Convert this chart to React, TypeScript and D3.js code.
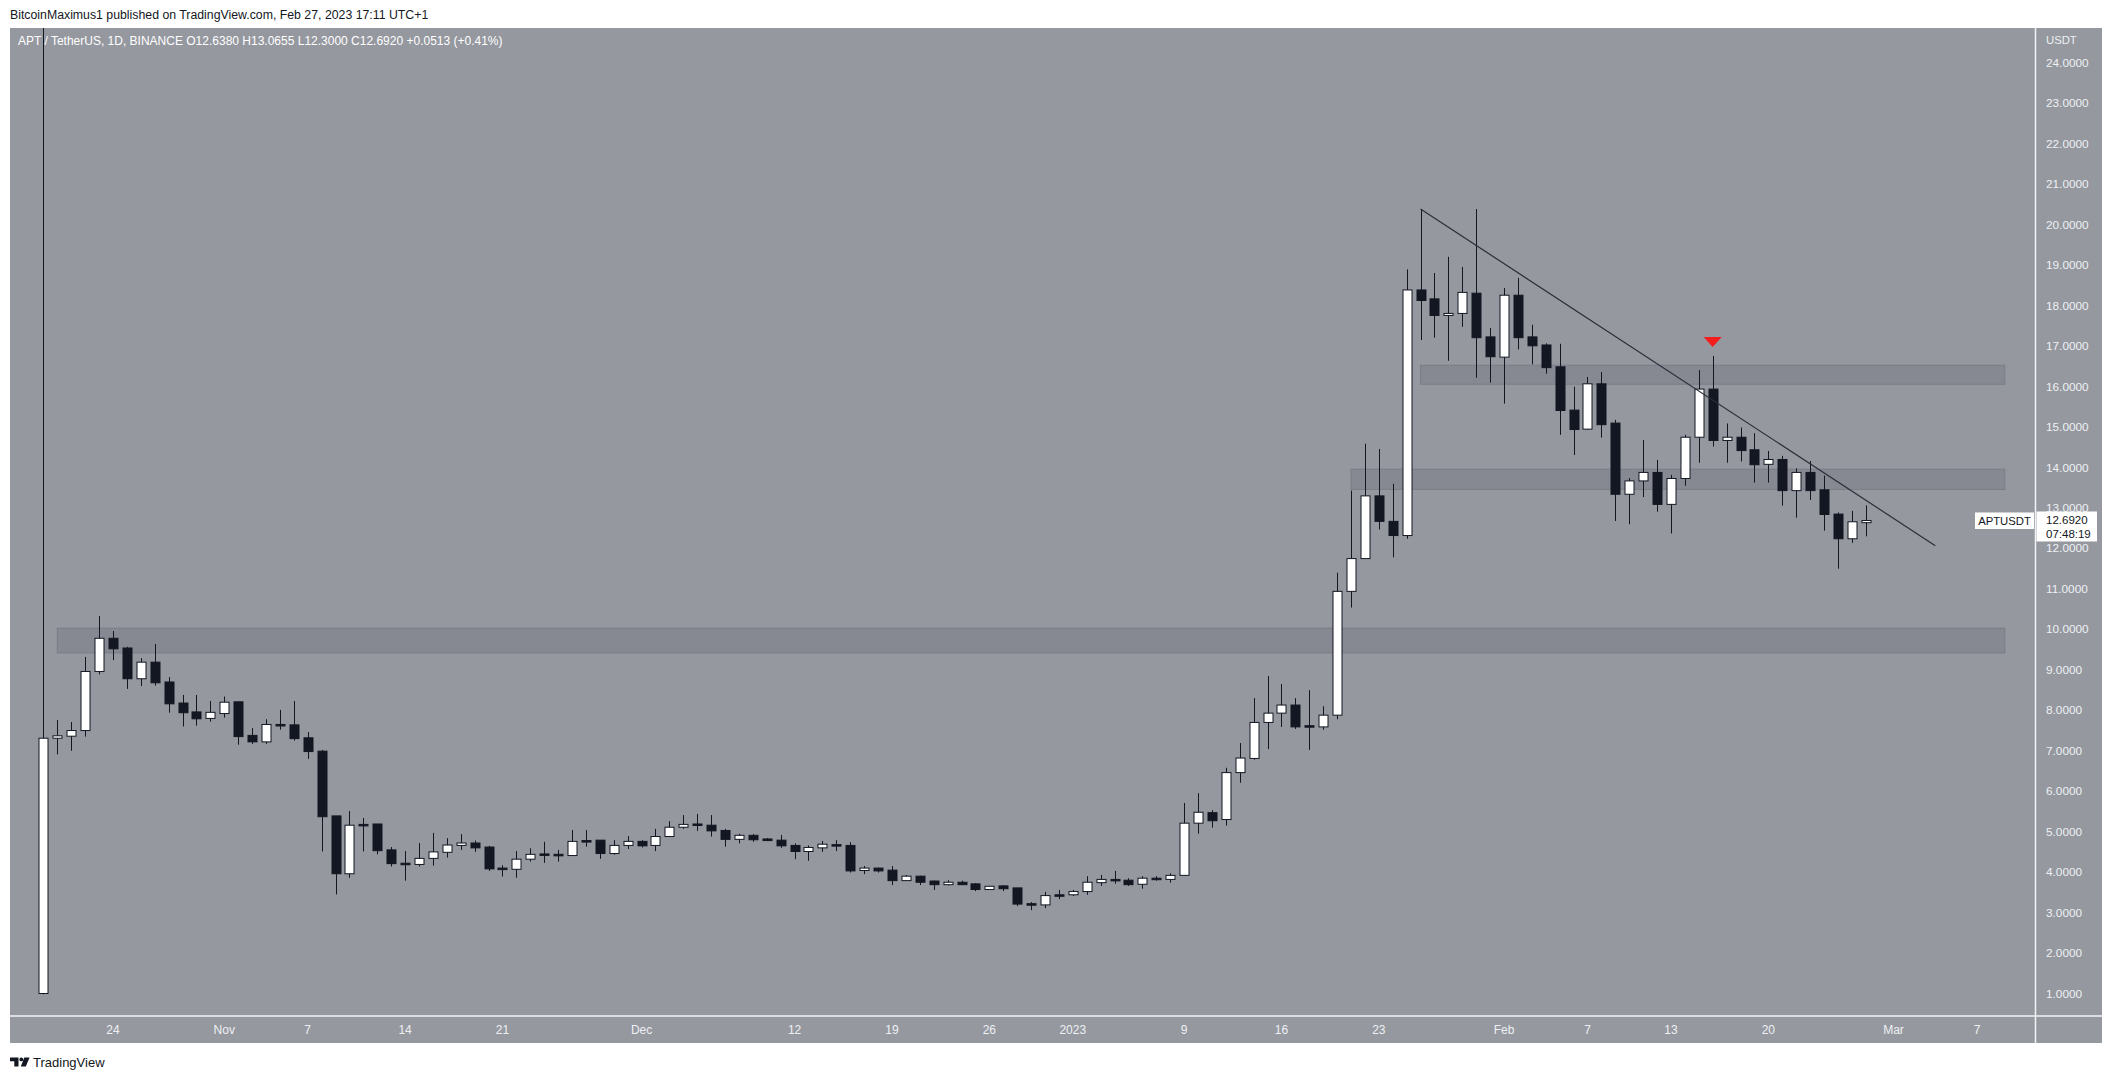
import React from "react";
import * as d3 from "d3";

// ---- data (daily candles, APT/USDT, Binance) ----
const startDate = Date.UTC(2022, 9, 19); // first candle, Oct 19 2022, one candle per day
const opens = [
  1.0, 7.31, 7.36, 7.5, 8.96, 9.78, 9.54, 8.78, 9.19, 8.7, 8.18, 7.96, 7.8,
  7.92, 8.21, 7.38, 7.22, 7.65, 7.64, 7.32, 6.99, 5.39, 3.96, 5.18, 5.19, 4.55, 4.22,
  4.19, 4.34, 4.49, 4.66, 4.72, 4.62, 4.1, 4.07, 4.32, 4.45, 4.44, 4.41, 4.78, 4.79,
  4.46, 4.66, 4.76, 4.66, 4.88, 5.11, 5.19, 5.16, 5.03, 4.81, 4.91, 4.82, 4.79, 4.66,
  4.51, 4.6, 4.68, 4.66, 4.04, 4.1, 4.05, 3.79, 3.9, 3.78, 3.69, 3.75, 3.71, 3.57,
  3.66, 3.61, 3.22, 3.19, 3.44, 3.44, 3.52, 3.74, 3.82, 3.8, 3.7, 3.85, 3.82, 3.92,
  5.21, 5.47, 5.3, 6.46, 6.81, 7.7, 7.93, 8.13, 7.62, 7.59, 7.88, 10.94, 11.75, 13.3,
  12.67, 12.32, 18.39, 18.17, 17.76, 17.81, 18.31, 17.23, 16.73, 18.26, 17.23, 17.03,
  16.49, 15.42, 14.95, 16.07, 15.1, 13.34, 13.67, 13.88, 13.09, 13.73, 14.75, 15.94,
  14.67, 14.75, 14.44, 14.08, 14.2, 13.43, 13.88, 13.45, 12.85, 12.24, 12.638,
];
const highs = [
  100, 7.76, 7.71, 9.32, 10.33, 9.96, 9.57, 9.29, 9.64, 8.82, 8.38, 8.38, 8.23,
  8.34, 8.21, 7.56, 7.78, 8.01, 8.23, 7.46, 7.02, 5.39, 5.51, 5.34, 5.19, 4.62, 4.52,
  4.72, 4.97, 4.84, 4.94, 4.78, 4.65, 4.17, 4.52, 4.59, 4.75, 4.55, 5.04, 5.04, 4.79,
  4.79, 4.89, 4.79, 5.07, 5.26, 5.41, 5.44, 5.41, 5.07, 4.95, 4.94, 4.84, 4.92, 4.71,
  4.66, 4.77, 4.79, 4.74, 4.15, 4.11, 4.15, 3.93, 3.91, 3.79, 3.8, 3.79, 3.73, 3.66,
  3.68, 3.61, 3.26, 3.51, 3.56, 3.56, 3.9, 3.93, 4.03, 3.85, 3.9, 3.9, 3.97, 5.71,
  5.95, 5.53, 6.58, 7.19, 8.3, 8.85, 8.65, 8.3, 8.5, 8.1, 11.4, 13.43, 14.59, 14.46,
  13.6, 18.9, 20.39, 18.81, 19.21, 18.96, 20.39, 17.45, 18.44, 18.69, 17.53, 17.07,
  17.06, 16.0, 16.24, 16.36, 15.18, 13.74, 14.68, 14.19, 13.82, 14.81, 16.41, 16.76,
  15.09, 14.99, 14.85, 14.41, 14.29, 13.98, 14.16, 13.8, 12.89, 12.93, 13.0655,
];
const lows = [
  0.98, 6.91, 7.0, 7.35, 8.89, 9.24, 8.53, 8.6, 8.61, 7.94, 7.6, 7.62, 7.72,
  7.82, 7.15, 7.17, 7.17, 7.52, 7.25, 6.8, 4.51, 3.45, 3.86, 4.51, 4.44, 4.14, 3.79,
  4.14, 4.16, 4.36, 4.55, 4.5, 4.03, 3.89, 3.86, 4.26, 4.23, 4.26, 4.4, 4.63, 4.33,
  4.43, 4.57, 4.61, 4.52, 4.88, 5.07, 5.02, 4.88, 4.63, 4.71, 4.75, 4.77, 4.6, 4.32,
  4.28, 4.5, 4.52, 3.99, 3.95, 3.99, 3.68, 3.78, 3.68, 3.56, 3.67, 3.68, 3.53, 3.56,
  3.53, 3.16, 3.06, 3.11, 3.33, 3.41, 3.44, 3.66, 3.71, 3.66, 3.59, 3.79, 3.74, 3.91,
  4.95, 5.1, 5.15, 6.21, 6.78, 7.04, 7.59, 7.54, 7.02, 7.52, 7.78, 10.54, 11.74, 12.47,
  11.78, 12.24, 17.15, 17.21, 16.64, 17.48, 16.22, 16.1, 15.58, 16.92, 16.55, 16.32,
  14.81, 14.31, 14.94, 14.74, 12.68, 12.6, 13.27, 12.91, 12.37, 13.55, 14.12, 14.52,
  14.12, 14.15, 13.63, 13.63, 13.06, 12.76, 13.2, 12.44, 11.5, 12.14, 12.3,
];
const closes = [
  7.31, 7.37, 7.5, 8.96, 9.78, 9.52, 8.78, 9.19, 8.68, 8.16, 7.94, 7.79, 7.95,
  8.2, 7.35, 7.22, 7.65, 7.62, 7.3, 6.98, 5.37, 3.96, 5.16, 5.16, 4.53, 4.21, 4.2,
  4.34, 4.5, 4.67, 4.72, 4.6, 4.08, 4.08, 4.32, 4.44, 4.43, 4.43, 4.76, 4.77, 4.46,
  4.66, 4.76, 4.65, 4.88, 5.11, 5.18, 5.16, 5.02, 4.81, 4.91, 4.8, 4.78, 4.65, 4.51,
  4.61, 4.69, 4.67, 4.03, 4.1, 4.03, 3.79, 3.9, 3.75, 3.69, 3.75, 3.69, 3.57, 3.65,
  3.59, 3.21, 3.21, 3.42, 3.43, 3.52, 3.75, 3.82, 3.81, 3.69, 3.85, 3.84, 3.92, 5.21,
  5.48, 5.27, 6.46, 6.82, 7.7, 7.93, 8.13, 7.59, 7.6, 7.88, 10.94, 11.75, 13.3, 12.67,
  12.32, 18.39, 18.13, 17.76, 17.81, 18.33, 17.21, 16.74, 18.26, 17.21, 17.01, 16.47,
  15.41, 14.94, 16.07, 15.06, 13.34, 13.67, 13.88, 13.09, 13.73, 14.75, 15.94, 14.67,
  14.75, 14.42, 14.07, 14.2, 13.43, 13.88, 13.43, 12.84, 12.24, 12.66, 12.692,
];

const priceTicks = d3.range(1, 25);
const timeTicks: [number, string][] = [
  [Date.UTC(2022, 9, 24), "24"],
  [Date.UTC(2022, 10, 1), "Nov"],
  [Date.UTC(2022, 10, 7), "7"],
  [Date.UTC(2022, 10, 14), "14"],
  [Date.UTC(2022, 10, 21), "21"],
  [Date.UTC(2022, 11, 1), "Dec"],
  [Date.UTC(2022, 11, 12), "12"],
  [Date.UTC(2022, 11, 19), "19"],
  [Date.UTC(2022, 11, 26), "26"],
  [Date.UTC(2023, 0, 1), "2023"],
  [Date.UTC(2023, 0, 9), "9"],
  [Date.UTC(2023, 0, 16), "16"],
  [Date.UTC(2023, 0, 23), "23"],
  [Date.UTC(2023, 1, 1), "Feb"],
  [Date.UTC(2023, 1, 7), "7"],
  [Date.UTC(2023, 1, 13), "13"],
  [Date.UTC(2023, 1, 20), "20"],
  [Date.UTC(2023, 2, 1), "Mar"],
  [Date.UTC(2023, 2, 7), "7"],
];

// horizontal zones: [fromDate, toDate, low, high]
const zones: [number, number, number, number][] = [
  [Date.UTC(2022, 9, 20), Date.UTC(2023, 2, 9), 9.42, 10.03],
  [Date.UTC(2023, 0, 21), Date.UTC(2023, 2, 9), 13.46, 13.96],
  [Date.UTC(2023, 0, 26), Date.UTC(2023, 2, 9), 16.06, 16.53],
];
// descending trend line: [date, price] pairs
const trendLine: [number, number][] = [
  [Date.UTC(2023, 0, 26), 20.39],
  [Date.UTC(2023, 2, 4), 12.07],
];
const signalDate = Date.UTC(2023, 1, 16);
const lastPrice = 12.692;

const DAY = 86400000;

export default function App() {
  const W = 2113,
    H = 1079;
  const panelL = 10,
    panelR = 2102,
    panelT = 28,
    panelB = 1043;
  const plotR = 2035.5,
    plotB = 1016;

  const x = d3
    .scaleUtc()
    .domain([Date.UTC(2022, 9, 19), Date.UTC(2023, 2, 7)])
    .range([43.4, 1977]);
  const y = d3.scaleLinear().domain([1, 24]).range([993.5, 63]);

  const candles = opens.map((o, i) => ({
    t: startDate + i * DAY,
    o,
    h: highs[i],
    l: lows[i],
    c: closes[i],
  }));

  const bodyW = 9;
  const dark = "#131722";
  const axisText = "#eef0f4";
  const font = "'Liberation Sans', Arial, sans-serif";

  const sx = x(signalDate);
  const sHigh = highs[Math.round((signalDate - startDate) / DAY)];
  const triBottom = y(sHigh) - 9;

  const yl = y(lastPrice);

  return (
    <svg
      width={W}
      height={H}
      style={{ position: "absolute", left: 0, top: 0, background: "#ffffff" }}
      fontFamily={font}
    >
      <defs>
        <clipPath id="plotClip">
          <rect x={panelL} y={panelT} width={plotR - panelL} height={plotB - panelT} />
        </clipPath>
      </defs>
      <rect x={0} y={0} width={W} height={H} fill="#ffffff" />
      <text x={10} y={15} dominantBaseline="central" fontSize={12.3} fill="#131722">
        BitcoinMaximus1 published on TradingView.com, Feb 27, 2023 17:11 UTC+1
      </text>

      {/* panel */}
      <rect x={panelL} y={panelT} width={panelR - panelL} height={panelB - panelT} fill="#95989f" />

      <g clipPath="url(#plotClip)">
        {zones.map(([a, b, lo, hi], i) => (
          <rect
            key={"z" + i}
            x={x(a)}
            y={y(hi)}
            width={x(b) - x(a)}
            height={y(lo) - y(hi)}
            fill="#868992"
            stroke="#7a7d86"
            strokeWidth={1}
          />
        ))}

        {candles.map((d, i) => {
          const cx = Math.round(x(d.t)) + 0.5;
          const up = d.c >= d.o;
          const top = y(Math.max(d.o, d.c));
          const bot = y(Math.min(d.o, d.c));
          return (
            <g key={"c" + i}>
              <line x1={cx} x2={cx} y1={y(d.h)} y2={y(d.l)} stroke={dark} strokeWidth={1} />
              <rect
                x={cx - bodyW / 2}
                y={top}
                width={bodyW}
                height={Math.max(bot - top, 1.5)}
                fill={up ? "#ffffff" : dark}
                stroke={dark}
                strokeWidth={1}
              />
            </g>
          );
        })}

        <line
          x1={x(trendLine[0][0])}
          y1={y(trendLine[0][1])}
          x2={x(trendLine[1][0])}
          y2={y(trendLine[1][1])}
          stroke="#2a2e39"
          strokeWidth={1.2}
        />

        <path
          d={`M${sx - 9},${triBottom - 10} L${sx + 9},${triBottom - 10} L${sx},${triBottom} Z`}
          fill="#f41c1c"
        />
      </g>

      {/* legend line */}
      <text x={18} y={41} dominantBaseline="central" fontSize={12} fill="#ffffff">
        APT / TetherUS, 1D, BINANCE  O12.6380  H13.0655  L12.3000  C12.6920  +0.0513 (+0.41%)
      </text>

      {/* separators */}
      <line x1={plotR} x2={plotR} y1={panelT} y2={panelB} stroke="#f2f3f5" strokeWidth={1.5} />
      <line x1={panelL} x2={panelR} y1={plotB} y2={plotB} stroke="#f2f3f5" strokeWidth={1.5} />

      {/* price axis */}
      <text x={2046} y={40} dominantBaseline="central" fontSize={11.3} fill={axisText}>
        USDT
      </text>
      {priceTicks.map((p) => (
        <text
          key={"p" + p}
          x={2046}
          y={y(p)}
          dominantBaseline="central"
          fontSize={11.8}
          fill={axisText}
        >
          {d3.format(".4f")(p)}
        </text>
      ))}

      {/* time axis */}
      {timeTicks.map(([t, lab], i) => (
        <text
          key={"t" + i}
          x={x(t)}
          y={1030}
          textAnchor="middle"
          dominantBaseline="central"
          fontSize={12}
          fill={axisText}
        >
          {lab}
        </text>
      ))}

      {/* last price labels */}
      <rect x={1975} y={yl - 8} width={59} height={16.5} fill="#ffffff" />
      <text x={2004.5} y={yl + 0.3} textAnchor="middle" dominantBaseline="central" fontSize={11.3} fill={dark}>
        APTUSDT
      </text>
      <rect x={2036.5} y={yl - 9} width={60.5} height={30} fill="#ffffff" />
      <text x={2046} y={yl} dominantBaseline="central" fontSize={11.5} fill={dark}>
        {d3.format(".4f")(lastPrice)}
      </text>
      <text x={2046} y={yl + 13.5} dominantBaseline="central" fontSize={11.5} fill={dark}>
        07:48:19
      </text>

      {/* footer */}
      <path d="M10,1057.5 h8.5 v9 h-4.2 v-5.2 h-4.3 z" fill="#131722" />
      <circle cx={21.3} cy={1059.4} r={1.9} fill="#131722" />
      <path d="M24.3,1057.5 h5.3 l-3.8,9 h-5 z" fill="#131722" />
      <text x={33} y={1062} dominantBaseline="central" fontSize={13} fill="#131722">
        TradingView
      </text>
    </svg>
  );
}
